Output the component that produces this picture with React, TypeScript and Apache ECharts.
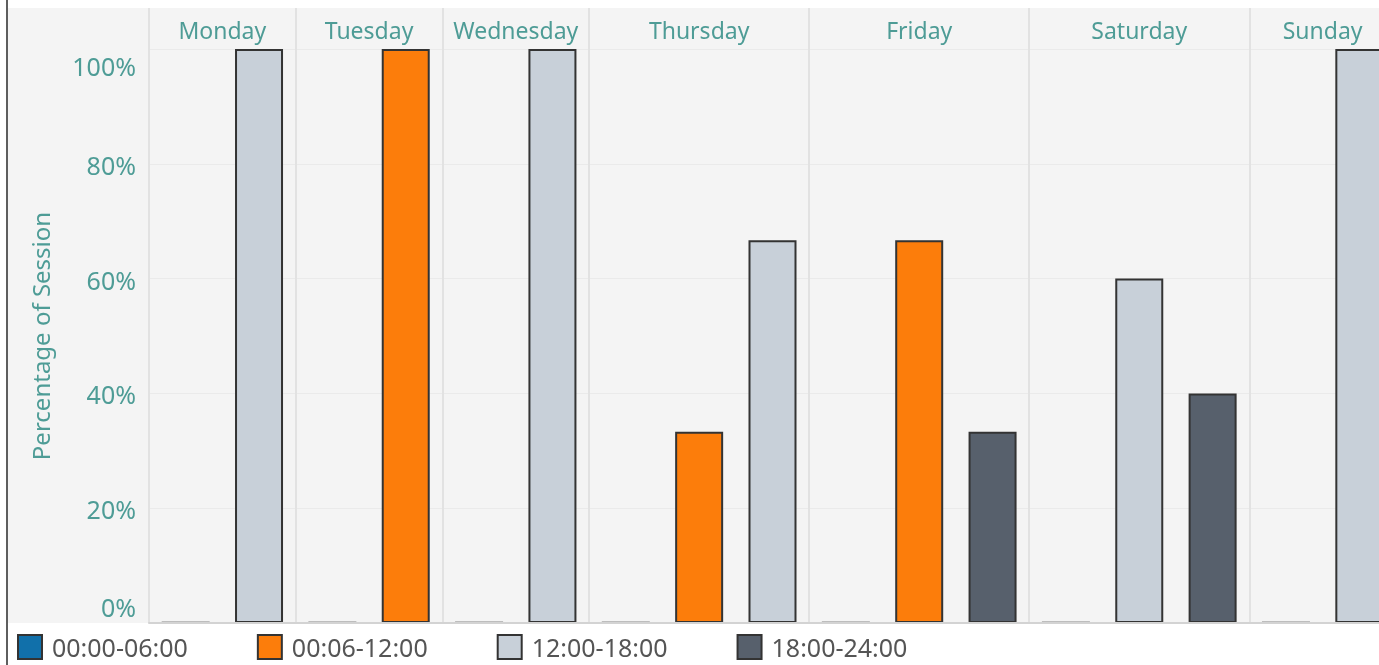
import React, { useEffect, useRef } from "react";
import * as echarts from "echarts";

const DAYS = ["Monday", "Tuesday", "Wednesday", "Thursday", "Friday", "Saturday", "Sunday"];
const SLOT_NAMES = ["00:00-06:00", "00:06-12:00", "12:00-18:00", "18:00-24:00"];
// Percentage of sessions per day for each time slot (null = slot absent that day)
const SHARE_0000_0600 = [0, 0, 0, 0, 0, 0, 0];
const SHARE_0006_1200 = [null, 100, null, 33.33, 66.67, null, null];
const SHARE_1200_1800 = [100, null, 100, 66.67, null, 60, 100];
const SHARE_1800_2400 = [null, null, null, null, 33.33, 40, null];
const Y_MIN = 0;
const Y_MAX = 100;
const Y_STEP = 20;

const SLOT_COLORS = ["#1170aa", "#fc7d0b", "#c8d0d9", "#57606c"];
const TEAL = "#4e9c96";
const FONT = "Noto Sans";

export default function App() {
  const ref = useRef<HTMLDivElement>(null);

  useEffect(() => {
    if (!ref.current) return;
    const chart = echarts.init(ref.current, undefined, { renderer: "svg" });

    const shares = [SHARE_0000_0600, SHARE_0006_1200, SHARE_1200_1800, SHARE_1800_2400];
    const cats: string[] = [];
    const seriesData: (number | null)[][] = SLOT_NAMES.map(() => []);
    const dayStarts: number[] = [];
    const dayCenters: number[] = [];
    DAYS.forEach((day, di) => {
      const start = cats.length;
      shares.forEach((arr, si) => {
        if (arr[di] != null) {
          cats.push(day + " " + SLOT_NAMES[si]);
          seriesData.forEach((sd, k) => sd.push(k === si ? (arr[di] as number) : null));
        }
      });
      dayStarts.push(start);
      dayCenters.push((start + cats.length) / 2);
    });
    const total = cats.length;
    const isDayStart = (idx: number) => dayStarts.indexOf(idx) >= 0;

    const splitLineCfg = {
      show: true,
      interval: (idx: number) => isDayStart(idx),
      lineStyle: { color: "#e2e2e2", width: 2 },
    };

    const richBase = { fontFamily: FONT, fontSize: 25, color: TEAL };

    chart.setOption({
      animation: false,
      graphic: [
        { type: "rect", z: -10, shape: { x: 8, y: 8, width: 1420, height: 615 }, style: { fill: "#f4f4f4" } },
        { type: "rect", z: 10, shape: { x: 6, y: 0, width: 2, height: 665 }, style: { fill: "#5e5e5e" } },
      ],
      grid: [
        { left: 149, top: 49, width: 1247, height: 574 },
        { left: 149, top: 8, width: 1247, height: 41 },
      ],
      xAxis: [
        {
          type: "category",
          gridIndex: 0,
          data: cats,
          z: 3,
          axisLine: { show: true, lineStyle: { color: "#d3d3d3", width: 2 } },
          axisTick: { show: false },
          axisLabel: { show: false },
          splitLine: splitLineCfg,
        },
        {
          type: "category",
          gridIndex: 1,
          data: cats,
          axisLine: { show: false },
          axisTick: { show: false },
          axisLabel: { show: false },
          splitLine: splitLineCfg,
        },
        {
          type: "value",
          gridIndex: 0,
          position: "top",
          min: 0,
          max: total,
          interval: 0.5,
          axisLine: { show: false },
          axisTick: { show: false },
          splitLine: { show: false },
          axisLabel: {
            margin: 8,
            color: TEAL,
            fontFamily: FONT,
            fontSize: 23,
            formatter: (v: number) => {
              const i = dayCenters.indexOf(v);
              return i >= 0 ? DAYS[i] : "";
            },
          },
        },
      ],
      yAxis: [
        {
          type: "value",
          gridIndex: 0,
          min: Y_MIN,
          max: Y_MAX,
          interval: Y_STEP,
          name: "Percentage of Session",
          nameLocation: "middle",
          nameGap: 97,
          nameTextStyle: { color: TEAL, fontFamily: FONT, fontSize: 24 },
          axisLine: { show: false },
          axisTick: { show: false },
          splitLine: { lineStyle: { color: "#eaeaea", width: 1 } },
          axisLabel: {
            margin: 13,
            formatter: (v: number) =>
              v === Y_MAX ? `{top|${v}%}` : v === Y_MIN ? `{bot|${v}%}` : `{mid|${v}%}`,
            rich: {
              top: { ...richBase, padding: [34, 0, 0, 0] },
              bot: { ...richBase, padding: [0, 0, 32, 0] },
              mid: { ...richBase, padding: [2, 0, 0, 0] },
            },
          },
        },
        { type: "value", gridIndex: 1, show: false },
      ],
      legend: {
        left: 17,
        top: 634,
        padding: 0,
        icon: "rect",
        itemWidth: 24,
        itemHeight: 24,
        itemGap: 69,
        itemStyle: { borderColor: "#333333", borderWidth: 2 },
        textStyle: { color: "#555555", fontFamily: FONT, fontSize: 25, padding: [0, 0, 0, 5] },
        data: SLOT_NAMES.map((name, i) => ({ name, itemStyle: { color: SLOT_COLORS[i] } })),
      },
      series: SLOT_NAMES.map((name, si) => ({
        type: "bar",
        name,
        xAxisIndex: 0,
        yAxisIndex: 0,
        barWidth: 48,
        barGap: "-100%",
        barMinHeight: si === 0 ? 2 : 0,
        data: seriesData[si],
        itemStyle:
          si === 0
            ? { color: "#bdbdbd", borderWidth: 0 }
            : { color: SLOT_COLORS[si], borderColor: "#333333", borderWidth: 2 },
      })),
    });

    return () => chart.dispose();
  }, []);

  return (
    <div style={{ position: "fixed", left: 0, top: 0, width: 1379, height: 665, overflow: "hidden" }}>
      <div ref={ref} style={{ width: 1420, height: 665 }} />
    </div>
  );
}
